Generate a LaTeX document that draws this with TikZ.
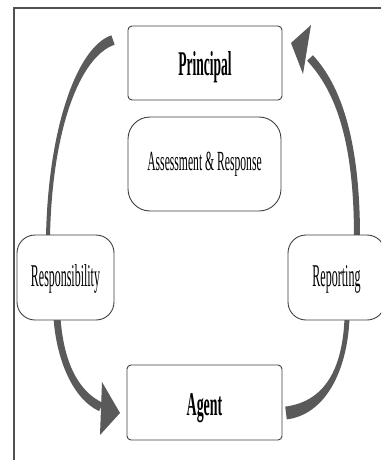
\documentclass[tikz,border=0pt]{standalone}
\usepackage{fontspec}
\setmainfont{Liberation Serif}
\definecolor{arrowgray}{HTML}{5A5A5A}
\definecolor{framegray}{HTML}{505050}
\tikzset{
  box/.style={draw=black!75, line width=0.9pt, rounded corners=#1, inner sep=0pt, fill=white},
  flow/.style={fill=arrowgray, draw=none},
  frame/.style={draw=framegray, line width=1.6pt},
}
\begin{document}
\begin{tikzpicture}[x=1pt,y=-1pt]
\useasboundingbox (0,0) rectangle (381,460);
\clip (0,0) rectangle (381,460);
\fill[white] (0,0) rectangle (381,460);
\coordinate (frtr) at (381,8);
\coordinate (frtl) at (14,8);
\coordinate (frbl) at (14,460);
\draw[frame] (frtr) -- (frtl) -- (frbl);

% curved arrows (tapered)
\fill[flow] (46,237) .. controls (48,130) and (76.4,47.3) .. (111.4,35.3)
  -- (114.6,44.7) .. controls (79.6,56.7) and (52,130) .. (50,237) -- cycle;
\fill[flow] (354,237) .. controls (354,140) and (335.1,90.7) .. (307.1,60.7)
  -- (312.9,55.3) .. controls (340.9,85.3) and (360,140) .. (360,237) -- cycle;
\fill[flow] (291,43) -- (311,25) -- (303,74) -- cycle;
\fill[flow] (60.5,318) .. controls (63.5,359.7) and (76.9,390.9) .. (102.9,402.9)
  -- (99.1,411.1) .. controls (73.1,399.1) and (56.5,360.3) .. (53.5,318) -- cycle;
\fill[flow] (102,382) -- (120,413) -- (100,435) -- cycle;
\fill[flow] (285.2,406.6) .. controls (324.2,401.6) and (342.5,369.9) .. (344.5,318)
  -- (349.5,318) .. controls (347.5,370.1) and (325.8,414.4) .. (286.8,419.4) -- cycle;

\node[box=4pt, minimum width=154pt, minimum height=74pt, text height=24pt, text depth=0pt]
  (principal) at (205,63) {\scalebox{0.39}[1]{\fontsize{34.7}{36}\selectfont\bfseries Principal}};
\node[box=22pt, minimum width=153pt, minimum height=94pt, text height=14pt, text depth=2pt]
  (assess) at (204.5,164) {\scalebox{0.42}[1]{\fontsize{27.7}{29}\selectfont Assessment \& Response}};
\node[box=18pt, minimum width=97pt, minimum height=85pt, text height=20pt, text depth=3pt]
  (resp) at (65.5,277.5) {\scalebox{0.377}[1]{\fontsize{31.7}{33}\selectfont Responsibility}};
\node[box=18pt, minimum width=97pt, minimum height=85pt, text height=20pt, text depth=3pt]
  (report) at (336.5,277.5) {\scalebox{0.38}[1]{\fontsize{31.7}{33}\selectfont Reporting}};
\node[box=4pt, minimum width=155pt, minimum height=75pt, text height=25pt, text depth=0pt]
  (agent) at (204.5,402.5) {\scalebox{0.42}[1]{\fontsize{33.2}{35}\selectfont\bfseries Agent}};
\end{tikzpicture}
\end{document}
